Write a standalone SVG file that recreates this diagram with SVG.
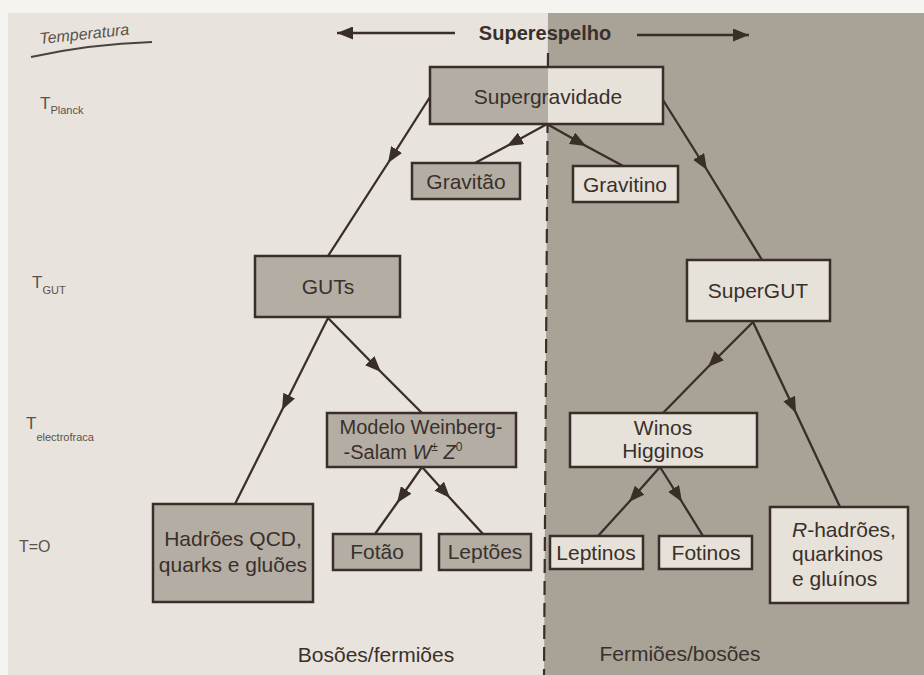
<svg xmlns="http://www.w3.org/2000/svg" width="924" height="675" viewBox="0 0 924 675">
<defs>
<marker id="ah" viewBox="0 0 16 13" refX="16" refY="6.5" markerWidth="16" markerHeight="13" markerUnits="userSpaceOnUse" orient="auto">
<path d="M0,0 L16,6.5 L0,13 z" fill="#3a2e28"/>
</marker>
</defs>
<style>
.bg-w{fill:#f6f4f1}
.page{fill:#e8e3dc}
.shade{fill:#a9a297}
.box{stroke:#3a2e28;stroke-width:2.5}
.dark{fill:#b4ada4}
.light{fill:#e6e1d9}
.t{font-family:"Liberation Sans",Arial,sans-serif;font-size:21px;fill:#3a302b;text-anchor:middle}
.lbl{font-family:"Liberation Sans",Arial,sans-serif;fill:#5a524c}
.con path{fill:none;stroke:#3a2e28;stroke-width:2.3;marker-mid:url(#ah)}
</style>
<rect class="bg-w" x="0" y="0" width="924" height="675"/>
<rect class="page" x="8" y="13" width="916" height="662"/>
<polygon class="shade" points="548,13 924,13 924,675 544,675"/>
<line x1="548" y1="53" x2="544" y2="675" stroke="#3a2e28" stroke-width="2.2" stroke-dasharray="14 8"/>

<g id="header">
<text x="40" y="44" class="lbl" font-size="16" font-style="italic" fill="#4a423c" transform="rotate(-6 40 44)">Temperatura</text>
<path d="M31,57 Q90,44 152,42" fill="none" stroke="#4a423c" stroke-width="2"/>
<text x="545" y="40" class="t" style="font-size:20px;font-weight:bold">Superespelho</text>
<line x1="455" y1="33" x2="337" y2="33" stroke="#3a2e28" stroke-width="2.3" marker-end="url(#ah)"/>
<line x1="637" y1="35" x2="749" y2="35" stroke="#3a2e28" stroke-width="2.3" marker-end="url(#ah)"/>
</g>

<g id="temps">
<text x="40" y="109" class="lbl" font-size="17">T<tspan font-size="11" dy="5">Planck</tspan></text>
<text x="32" y="288" class="lbl" font-size="17">T<tspan font-size="11" dy="6">GUT</tspan></text>
<text x="26" y="429" class="lbl" font-size="17">T<tspan font-size="11" dy="12">electrofraca</tspan></text>
<text x="19" y="552" class="lbl" font-size="16">T=O</text>
</g>

<g class="con" id="connectors">
<path d="M430,97 L388,163 L328,256"/>
<path d="M547,124 L507,146 L475,163"/>
<path d="M547,124 L586,146 L625,167"/>
<path d="M663,100 L707,170 L762,260"/>
<path d="M328,318 L282,410 L235,504"/>
<path d="M328,318 L381,372 L422,413"/>
<path d="M422,467 L397,503 L375,534"/>
<path d="M422,467 L450,498 L483,534"/>
<path d="M753,322 L708,367 L663,413"/>
<path d="M753,322 L796,413 L840,507"/>
<path d="M660,467 L629,502 L598,536"/>
<path d="M660,467 L682,502 L703,536"/>
</g>

<g id="supergravidade">
<rect class="dark" x="430" y="67" width="118" height="57"/>
<rect class="light" x="548" y="67" width="115" height="57"/>
<rect class="box" x="430" y="67" width="233" height="57" fill="none"/>
<text class="t" x="548" y="104">Supergravidade</text>
</g>
<g id="gravitao">
<rect class="box dark" x="412" y="163" width="108" height="36"/>
<text class="t" x="466" y="189">Gravitão</text>
</g>
<g id="gravitino">
<rect class="box light" x="573" y="166" width="105" height="36"/>
<text class="t" x="625" y="192">Gravitino</text>
</g>
<g id="guts">
<rect class="box dark" x="255" y="256" width="145" height="61"/>
<text class="t" x="328" y="294">GUTs</text>
</g>
<g id="supergut">
<rect class="box light" x="687" y="260" width="143" height="61"/>
<text class="t" x="758" y="298">SuperGUT</text>
</g>
<g id="weinberg">
<rect class="box dark" x="327" y="413" width="189" height="54"/>
<text class="t" x="421" y="434" style="font-size:20px">Modelo Weinberg-</text>
<text class="t" x="403" y="459" style="font-size:20px">-Salam <tspan font-style="italic">W</tspan><tspan font-size="12" dy="-8">±</tspan><tspan dy="8"> </tspan><tspan font-style="italic">Z</tspan><tspan font-size="12" dy="-8">0</tspan></text>
</g>
<g id="winos">
<rect class="box light" x="570" y="413" width="187" height="54"/>
<text class="t" x="663" y="435">Winos</text>
<text class="t" x="663" y="458">Higginos</text>
</g>
<g id="hadroes">
<rect class="box dark" x="153" y="504" width="160" height="98"/>
<text class="t" x="233" y="546">Hadrões QCD,</text>
<text class="t" x="233" y="572">quarks e gluões</text>
</g>
<g id="fotao">
<rect class="box dark" x="333" y="534" width="88" height="36"/>
<text class="t" x="377" y="559">Fotão</text>
</g>
<g id="leptoes">
<rect class="box dark" x="439" y="534" width="92" height="36"/>
<text class="t" x="485" y="559">Leptões</text>
</g>
<g id="leptinos">
<rect class="box light" x="550" y="536" width="93" height="33"/>
<text class="t" x="596" y="560">Leptinos</text>
</g>
<g id="fotinos">
<rect class="box light" x="659" y="536" width="93" height="33"/>
<text class="t" x="706" y="560">Fotinos</text>
</g>
<g id="rhadroes">
<rect class="box light" x="770" y="507" width="138" height="96"/>
<text class="t" x="792" y="537" style="text-anchor:start"><tspan font-style="italic">R</tspan>-hadrões,</text>
<text class="t" x="792" y="561" style="text-anchor:start">quarkinos</text>
<text class="t" x="792" y="586" style="text-anchor:start">e gluínos</text>
</g>
<g id="footer">
<text class="t" x="376" y="662">Bosões/fermiões</text>
<text class="t" x="680" y="661">Fermiões/bosões</text>
</g>
</svg>
